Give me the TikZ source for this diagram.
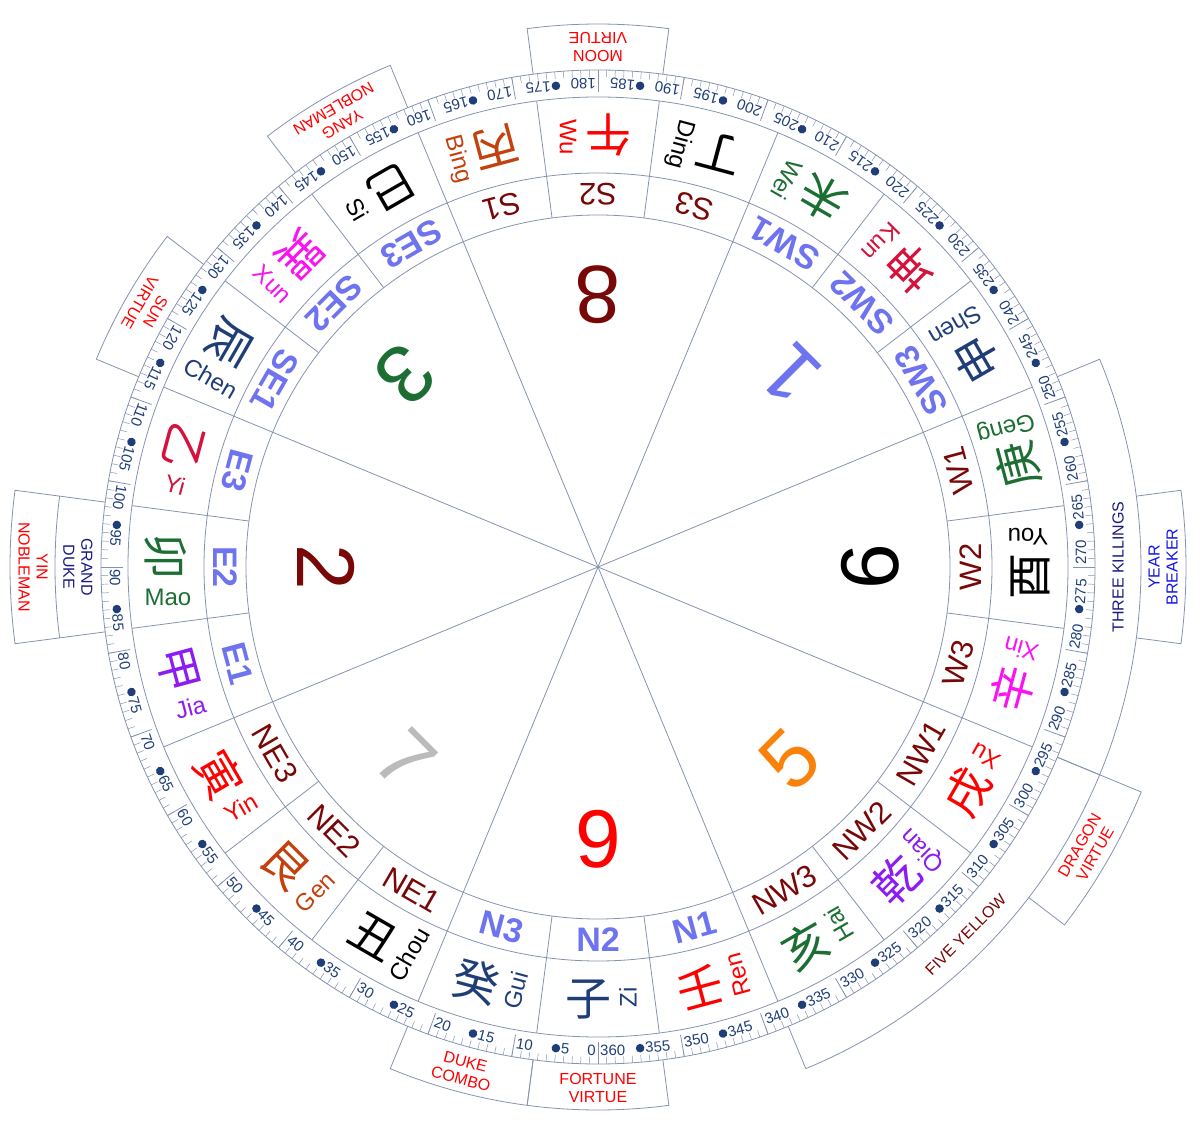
\documentclass[tikz,border=0pt]{standalone}
\usepackage{fontspec}
\setmainfont{Liberation Sans}
\newfontfamily\cjk{Noto Sans CJK SC}
\definecolor{RingLine}{HTML}{8593B0}
\definecolor{Navy}{HTML}{1F3E78}
\definecolor{DeepRed}{HTML}{780808}
\definecolor{StarBlue}{HTML}{6E73F0}
\definecolor{LeafGreen}{HTML}{1C6E32}
\definecolor{Crimson}{HTML}{D4123C}
\definecolor{Rust}{HTML}{C2410C}
\definecolor{Violet}{HTML}{8C1CF2}
\definecolor{Pink}{HTML}{FA12F0}
\definecolor{Silver}{HTML}{BBBBBB}
\definecolor{Amber}{HTML}{FA820A}
\definecolor{DarkNavy}{HTML}{1A1A82}
\definecolor{Royal}{HTML}{1414E6}

\begin{document}
\begin{tikzpicture}[x=1pt,y=1pt,
  ring/.style={draw=RingLine,line width=0.8pt},
  chr/.style={font=\cjk\fontsize{46}{46}\selectfont,inner sep=0pt},
  pin/.style={font=\fontsize{24}{24}\selectfont,inner sep=0pt},
  mtred/.style={font=\fontsize{31}{31}\selectfont,text=DeepRed,inner sep=0pt},
  mtblue/.style={font=\bfseries\fontsize{34}{34}\selectfont,text=StarBlue,inner sep=0pt},
  star/.style={font=\fontsize{82}{82}\selectfont,inner sep=0pt},
  deg/.style={font=\fontsize{15}{15}\selectfont,text=Navy,inner sep=1pt},
  note/.style={font=\fontsize{16}{18}\selectfont,align=center,inner sep=0pt}
]
\useasboundingbox (-598,-559) rectangle (603,567);
\foreach \r in {352,394,470,497} \draw[ring] (0,0) circle[radius=\r pt];
\foreach \d in {22.5,67.5,...,337.5} \draw[ring] (0,0) -- (-90-\d:352pt);
\foreach \d in {7.5,22.5,...,352.5} \draw[ring] (-90-\d:352pt) -- (-90-\d:470pt);
\foreach \d in {0,...,359} \draw[ring,line width=0.5pt] (-90-\d:497pt) -- (-90-\d:490pt);
\foreach \d in {0,10,...,350} \draw[ring] (-90-\d:497pt) -- (-90-\d:475pt);
\foreach \d in {10,20,...,350}{
  \begin{scope}[rotate=-\d,transform shape]
    \node[deg,anchor=west] (dg\d) at (1pt,-483pt) {\d};
  \end{scope}}
\foreach \d in {5,15,...,355}{
  \begin{scope}[rotate=-\d,transform shape]
    \fill[Navy] (0,-483pt) circle[radius=4.3pt];
    \node[deg,anchor=west] (dg\d) at (4pt,-483pt) {\d};
  \end{scope}}
\node[deg,anchor=east] (dg0) at (-1pt,-483pt) {0};
\node[deg,anchor=west] (dg360) at (1pt,-483pt) {360};
\foreach \d/\ch/\py/\col/\lab/\sty in {0/子/Zi/Navy/N2/mtblue,15/癸/Gui/Navy/N3/mtblue,30/丑/Chou/black/NE1/mtred,45/艮/Gen/Rust/NE2/mtred,60/寅/Yin/red/NE3/mtred,75/甲/Jia/Violet/E1/mtblue,90/卯/Mao/LeafGreen/E2/mtblue,105/乙/Yi/Crimson/E3/mtblue,120/辰/Chen/Navy/SE1/mtblue,135/巽/Xun/Pink/SE2/mtblue,150/巳/Si/black/SE3/mtblue,165/丙/Bing/Rust/S1/mtred,180/午/Wu/red/S2/mtred,195/丁/Ding/black/S3/mtred,210/未/Wei/LeafGreen/SW1/mtblue,225/坤/Kun/Crimson/SW2/mtblue,240/申/Shen/Navy/SW3/mtblue,255/庚/Geng/LeafGreen/W1/mtred,270/酉/You/black/W2/mtred,285/辛/Xin/Pink/W3/mtred,300/戌/Xu/red/NW1/mtred,315/乾/Qian/Violet/NW2/mtred,330/亥/Hai/LeafGreen/NW3/mtred,345/壬/Ren/red/N1/mtblue}{
  \begin{scope}[rotate=-\d,transform shape]
    \node[chr,text=\col] (ch\d) at (-10pt,-432pt) {\ch};
    \node[pin,text=\col,rotate=90] (py\d) at (30pt,-430pt) {\py};
    \node[\sty] (mt\d) at (0,-373pt) {\lab};
  \end{scope}}
\foreach \d/\n/\col in {0/9/red,45/7/Silver,90/2/DeepRed,135/3/LeafGreen,180/8/DeepRed,225/1/StarBlue,270/6/black,315/5/Amber}{
  \begin{scope}[rotate=-\d,transform shape]
    \node[star,text=\col] (fs\d) at (0,-272pt) {\n};
  \end{scope}}
\foreach \a/\b/\ra/\rb in {172.5/187.5/497/543,142.5/157.5/497/543,112.5/127.5/497/543,82.5/97.5/497/543,82.5/97.5/543/588,352.5/367.5/497/543,7.5/22.5/497/543,247.5/292.5/497/543,292.5/337.5/497/543,262.5/277.5/543/588,292.5/307.5/543/588}
  \draw[ring] (-90-\a:\ra pt) -- (-90-\a:\rb pt) arc[start angle=-90-\a,end angle=-90-\b,radius=\rb pt] -- (-90-\b:\ra pt);
\foreach \d/\r/\txt/\col [count=\i] in {180/520/{MOON\\VIRTUE}/red,150/520/{YANG\\NOBLEMAN}/red,120/520/{SUN\\VIRTUE}/red,90/520/{GRAND\\DUKE}/DarkNavy,90/565/{YIN\\NOBLEMAN}/red,0/521/{FORTUNE\\VIRTUE}/red,15/521/{DUKE\\COMBO}/red,270/520/{THREE KILLINGS}/DarkNavy,315/520/{FIVE YELLOW}/DeepRed,270/565/{YEAR\\BREAKER}/Royal,300/565/{DRAGON\\VIRTUE}/red}{
  \begin{scope}[rotate=-\d,transform shape]
    \node[note,text=\col] (nt\i) at (0,-\r pt) {\txt};
  \end{scope}}
\end{tikzpicture}
\end{document}
